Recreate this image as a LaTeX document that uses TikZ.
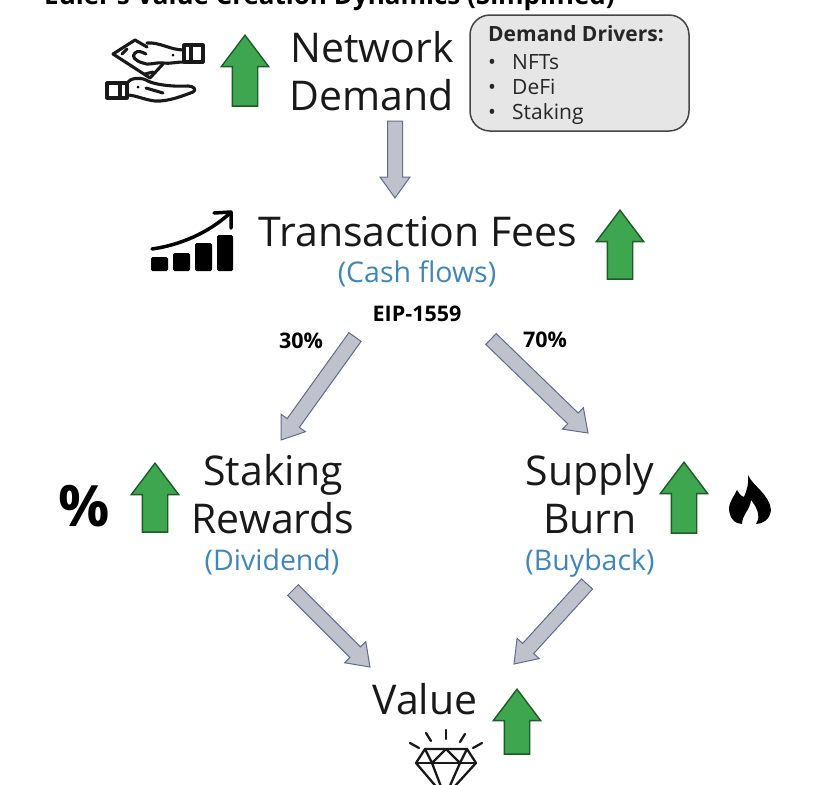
\documentclass[tikz,border=0pt]{standalone}
\usepackage{fontspec}
\setmainfont{Open Sans}
\usetikzlibrary{calc}
\usetikzlibrary{shapes.arrows}

\definecolor{upgreen}{HTML}{3FA650}
\definecolor{upedge}{HTML}{1E5B2A}
\definecolor{flowgray}{HTML}{BFC2CC}
\definecolor{flowedge}{HTML}{5F6C8C}
\definecolor{noteblue}{HTML}{3F86BC}
\definecolor{boxgray}{HTML}{E6E6E6}
\definecolor{boxedge}{HTML}{454545}

\tikzset{
    bigtext/.style={font=\fontsize{41}{41}\selectfont, text=black!90, inner sep=0pt, anchor=base},
    subtext/.style={font=\fontsize{28.5}{28.5}\selectfont, text=noteblue, inner sep=0pt, anchor=base},
    smalltext/.style={font=\fontsize{21.5}{21.5}\selectfont\bfseries, inner sep=0pt},
    drivertext/.style={font=\fontsize{21}{21}\selectfont, anchor=base west, inner sep=0pt, text=black!85},
    uparrow/.style={single arrow, draw=upedge, fill=upgreen, line width=1.4pt, rotate=90, inner sep=0pt,
        text height=24pt, text depth=0pt, text width=0pt, anchor=tip,
        minimum height=71pt, single arrow head extend=11pt, single arrow tip angle=74},
    flowarrow/.style={draw=flowedge, fill=flowgray, line width=1pt, line join=miter},
    icon/.style={line width=3.1pt, line join=round, line cap=round, black!90},
    gem/.style={line width=2.3pt, line join=round, line cap=round, black!90},
}

% gray block arrow from one named coordinate to another
\newcommand{\flowarrow}[2]{
    \draw [flowarrow]
        ($(#1)!7.5pt!90:(#2)$) --
        ($($(#2)!21pt!(#1)$)!7.5pt!-90:(#1)$) --
        ($($(#2)!21pt!(#1)$)!15pt!-90:(#1)$) --
        (#2) --
        ($($(#2)!21pt!(#1)$)!15pt!90:(#1)$) --
        ($($(#2)!21pt!(#1)$)!7.5pt!90:(#1)$) --
        ($(#1)!7.5pt!-90:(#2)$) -- cycle;
}

\begin{document}
\begin{tikzpicture}[x=1pt, y=-1pt]
    \useasboundingbox (0,0) rectangle (828,785);
    \clip (0,0) rectangle (828,785);

    % title, cut by the top edge
    \node [font=\fontsize{26}{26}\selectfont\bfseries, anchor=base west, inner sep=0pt] (title) at (44,4) {Euler's Value Creation Dynamics (Simplified)};

    % texts
    \node [bigtext] (network) at (372,62) {Network};
    \node [bigtext] (demand) at (372,110) {Demand};
    \node [bigtext] (fees) at (418,246) {Transaction Fees};
    \node [subtext] (cash) at (417,282) {(Cash flows)};
    \node [smalltext] (eip) at (417,314) {EIP-1559};
    \node [smalltext] (thirty) at (301,341) {30\%};
    \node [smalltext] (seventy) at (545,340) {70\%};
    \node [bigtext] (staking) at (273,485) {Staking};
    \node [bigtext] (rewards) at (273,533) {Rewards};
    \node [subtext] (dividend) at (272,570) {(Dividend)};
    \node [bigtext] (supply) at (590,485) {Supply};
    \node [bigtext] (burn) at (590,533) {Burn};
    \node [subtext] (buyback) at (590,570) {(Buyback)};
    \node [bigtext] (value) at (425,714) {Value};
    \node [font=\fontsize{57}{57}\selectfont\bfseries, inner sep=0pt] (percent) at (84,506) {\%};

    % demand drivers box
    \draw [draw=boxedge, fill=boxgray, line width=1.5pt, rounded corners=20pt] (470,15) rectangle (689,131);
    \node [drivertext, font=\fontsize{21}{21}\selectfont\bfseries] (drivers) at (488,41) {Demand Drivers:};
    \node [drivertext] (bulletA) at (488,69) {•};
    \node [drivertext] (nfts) at (512,69) {NFTs};
    \node [drivertext] (bulletB) at (488,94) {•};
    \node [drivertext] (defi) at (512,94) {DeFi};
    \node [drivertext] (bulletC) at (488,119) {•};
    \node [drivertext] (stakingitem) at (512,119) {Staking};

    % green arrows
    \node [uparrow] (upNetwork) at (245,34) {};
    \node [uparrow, minimum height=69pt] (upFees) at (620,209) {};
    \node [uparrow, minimum height=69pt] (upStaking) at (155,462) {};
    \node [uparrow] (upSupply) at (684,461) {};
    \node [uparrow, minimum height=65pt] (upValue) at (517,688) {};

    % gray arrows
    \coordinate (A_1) at (395,121);
    \coordinate (A_2) at (395,198);
    \coordinate (B_1) at (355,337);
    \coordinate (B_2) at (281,440);
    \coordinate (C_1) at (491,339);
    \coordinate (C_2) at (588,433);
    \coordinate (D_1) at (293,590);
    \coordinate (D_2) at (370,667);
    \coordinate (E_1) at (587,584);
    \coordinate (E_2) at (514,664);
    \flowarrow{A_1}{A_2}
    \flowarrow{B_1}{B_2}
    \flowarrow{C_1}{C_2}
    \flowarrow{D_1}{D_2}
    \flowarrow{E_1}{E_2}

    % hands with banknote
    \draw [icon] (113,54) -- (135,40) -- (147,47);
    \draw [icon] (113,54) -- (150,78) -- (163,64);
    \draw [icon] (122,54) -- (127,49);
    \draw [icon] (145,74) -- (153,72);
    \draw [icon] (147,43) .. controls (160,42) and (170,50) .. (184,50);
    \draw [icon] (184,62) .. controls (175,62) and (170,64) .. (163,63) .. controls (155,62) and (148,66) .. (143,63) .. controls (135,61) and (131,56) .. (135,53) .. controls (138,50) and (142,52) .. (146,54);
    \draw [icon] (184,45) rectangle (203,62);
    \draw [icon] (191,45) -- (191,62);
    \fill [black] (173,55) circle (1.5);
    \draw [icon] (107,83) rectangle (127,98);
    \draw [icon] (120,83) -- (120,98);
    \draw [icon] (127,83) .. controls (130,78) and (140,77) .. (146,80) .. controls (152,84) and (170,87) .. (188,86) .. controls (194,86) and (197,90) .. (193,92) .. controls (185,95) and (168,102) .. (155,101) .. controls (145,100) and (135,95) .. (127,95);
    \draw [icon] (146,88) -- (163,93);
    \fill [black] (138,87) circle (1.5);

    % chart icon
    \fill [black, rounded corners=1.5pt] (151,257) rectangle (168,271);
    \fill [black, rounded corners=1.5pt] (173,253) rectangle (190,271);
    \fill [black, rounded corners=1.5pt] (195,243) rectangle (212,271);
    \fill [black, rounded corners=1.5pt] (217,235) rectangle (233,271);
    \draw [black, line width=3.5pt, line cap=round] (152,249) .. controls (180,245) and (208,233) .. (229,214);
    \draw [black, line width=3.5pt, line cap=round, line join=round] (214,213) -- (231,212) -- (231,228);

    % flame icon
    \fill [black] (748,475) .. controls (752,485) and (770,495) .. (771,510) .. controls (770,520) and (762,524) .. (756,524) .. controls (762,515) and (755,505) .. (751,500) .. controls (750,510) and (742,515) .. (742,524) .. controls (735,524) and (729,518) .. (729,508) .. controls (730,500) and (735,495) .. (737,490) .. controls (740,495) and (742,497) .. (744,497) .. controls (747,490) and (749,483) .. (748,475) -- cycle;

    % diamond icon
    \draw [gem] (425,749) -- (467,749) -- (476,763) -- (445,797) -- (416,763) -- cycle;
    \draw [gem] (416,763) -- (476,763);
    \draw [gem] (425,749) -- (432,763) -- (446,749) -- (460,763) -- (467,749);
    \draw [gem] (432,763) -- (445,797) -- (460,763);
    \draw [gem] (446,730) -- (446,739);
    \draw [gem] (426,733) -- (431,741);
    \draw [gem] (465,734) -- (460,742);
    \draw [gem] (410,743) -- (419,748);
    \draw [gem] (482,743) -- (473,748);
\end{tikzpicture}
\end{document}
